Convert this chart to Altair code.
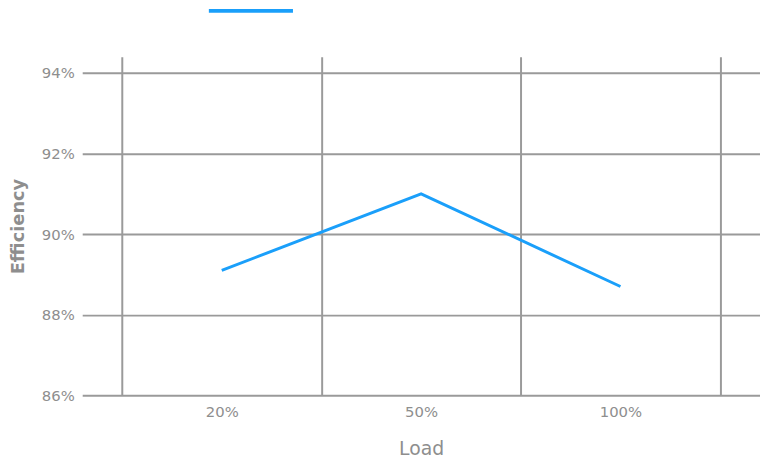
import altair as alt
import pandas as pd

loads = ["20%", "50%", "100%"]
efficiency = [89.1, 91.0, 88.7]
series = ["Efficiency"] * 3
y_ticks = [86, 88, 90, 92, 94]

df = pd.DataFrame({"Load": loads, "Efficiency": efficiency, "Series": series})

FONT = "DejaVu Sans"
GRID = "#9a9a9a"
TXT = "#8e8e8e"

chart = alt.Chart(df).mark_line(strokeWidth=3, color="#1a9ffa").encode(
    x=alt.X("Load:N", sort=loads,
            scale=alt.Scale(paddingInner=0, paddingOuter=0.2),
            axis=alt.Axis(title="Load", labelAngle=0, tickBand="extent", grid=True,
                          gridColor=GRID, gridWidth=2, ticks=False, domain=False,
                          labelColor=TXT, labelFontSize=15, labelFont=FONT, labelPadding=9,
                          titleColor=TXT, titleFontSize=19, titleFont=FONT,
                          titleFontWeight="normal", titlePadding=21)),
    y=alt.Y("Efficiency:Q", scale=alt.Scale(domain=[86, 94.4], nice=False, zero=False),
            axis=alt.Axis(title="Efficiency", values=y_ticks,
                          labelExpr="datum.value + '%'",
                          gridColor=GRID, gridWidth=2, ticks=False, domain=False,
                          labelColor=TXT, labelFontSize=15, labelFont=FONT, labelPadding=8,
                          titleColor=TXT, titleFontSize=18, titleFont=FONT,
                          titleFontWeight=600, titlePadding=14)),
    stroke=alt.Stroke("Series:N", scale=alt.Scale(range=["#1a9ffa"]),
                      legend=alt.Legend(title=None, orient="none", legendX=126, legendY=-91,
                                        symbolType="stroke", symbolSize=7225,
                                        symbolStrokeWidth=4, labelColor="white",
                                        labelFontSize=14, labelFont=FONT)),
).properties(
    width=685, height=342,
    autosize=alt.AutoSizeParams(type="none"),
    padding={"left": 75, "top": 47, "right": 0, "bottom": 60},
).configure(background="white").configure_view(stroke=None)

chart.save("out.html", embed_options={"renderer": "svg", "actions": False})
